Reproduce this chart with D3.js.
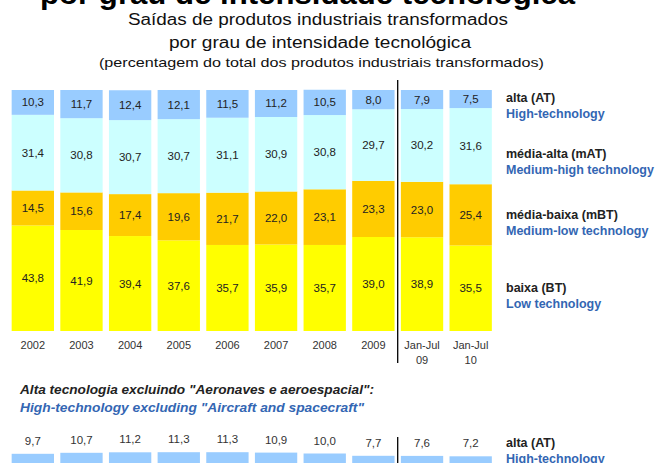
<!DOCTYPE html>
<html>
<head>
<meta charset="utf-8">
<script src="https://cdn.jsdelivr.net/npm/d3@7"></script>
<style>
    body { margin: 0; background: #fff; }
    svg { display: block; font-family: "Liberation Sans", Arial, sans-serif; }
</style>
</head>
<body>
<script>
// periods on the x axis
var periods = ["2002", "2003", "2004", "2005", "2006", "2007", "2008", "2009", "Jan-Jul 09", "Jan-Jul 10"];

// shares by technology level (% of manufactured goods exports)
var alta = [10.3, 11.7, 12.4, 12.1, 11.5, 11.2, 10.5, 8.0, 7.9, 7.5];
var mediaAlta = [31.4, 30.8, 30.7, 30.7, 31.1, 30.9, 30.8, 29.7, 30.2, 31.6];
var mediaBaixa = [14.5, 15.6, 17.4, 19.6, 21.7, 22.0, 23.1, 23.3, 23.0, 25.4];
var baixa = [43.8, 41.9, 39.4, 37.6, 35.7, 35.9, 35.7, 39.0, 38.9, 35.5];

// high-technology excluding aircraft and spacecraft
var altaExcl = [9.7, 10.7, 11.2, 11.3, 11.3, 10.9, 10.0, 7.7, 7.6, 7.2];

var seriesNames = ["alta (AT)", "média-alta (mAT)", "média-baixa (mBT)", "baixa (BT)"];
var seriesNamesEn = ["High-technology", "Medium-high technology", "Medium-low technology", "Low technology"];

class App {
    constructor() {
    }

    start() {
        this.draw();
    }

    draw() {
        var width = 663,
            height = 463,
            colors = ["#99ccff", "#ccffff", "#ffcc00", "#ffff00"],
            blue = "#3366b3",
            dark = "#222";

        var svg = d3.select("body").append("svg")
            .attr("width", width)
            .attr("height", height);

        // titles
        svg.append("text")
            .attr("x", 40).attr("y", 4)
            .attr("textLength", 535).attr("lengthAdjust", "spacingAndGlyphs")
            .style("font-size", "29px").style("font-weight", "bold").style("fill", "#000")
            .text("por grau de intensidade tecnológica");

        var subtitles = [
            { t: "Saídas de produtos industriais transformados", x: 128, y: 25, w: 380, s: 16 },
            { t: "por grau de intensidade tecnológica", x: 169, y: 48, w: 302, s: 16 },
            { t: "(percentagem do total dos produtos industriais transformados)", x: 99, y: 67, w: 445, s: 13 }
        ];
        svg.selectAll(".subtitle").data(subtitles).enter().append("text")
            .attr("class", "subtitle")
            .attr("x", function (d) { return d.x; })
            .attr("y", function (d) { return d.y; })
            .attr("textLength", function (d) { return d.w; })
            .attr("lengthAdjust", "spacingAndGlyphs")
            .style("font-size", function (d) { return d.s + "px"; })
            .style("fill", "#111")
            .text(function (d) { return d.t; });

        var x = d3.scaleBand()
            .domain(periods)
            .range([8.5, 495])
            .paddingInner(0.13)
            .paddingOuter(0.065);

        var y = d3.scaleLinear().domain([0, 100]).range([331, 90]);

        // build stack from the named arrays, top segment first
        var rows = periods.map(function (p, i) {
            return { period: p, alta: alta[i], mediaAlta: mediaAlta[i], mediaBaixa: mediaBaixa[i], baixa: baixa[i] };
        });
        var keys = ["baixa", "mediaBaixa", "mediaAlta", "alta"];
        var stack = d3.stack().keys(keys)(rows);

        var fmt = function (v) { return d3.format(".1f")(v).replace(".", ","); };

        var layers = svg.append("g").selectAll("g")
            .data(stack)
            .enter().append("g")
            .style("fill", function (d) { return colors[3 - keys.indexOf(d.key)]; });

        layers.selectAll("rect")
            .data(function (d) { return d; })
            .enter().append("rect")
            .attr("x", function (d) { return x(d.data.period); })
            .attr("width", x.bandwidth())
            .attr("y", function (d) { return y(d[1]); })
            .attr("height", function (d) { return y(d[0]) - y(d[1]); });

        layers.selectAll("text")
            .data(function (d) { return d.map(function (s) { s.key = d.key; return s; }); })
            .enter().append("text")
            .attr("x", function (d) { return x(d.data.period) + x.bandwidth() / 2; })
            .attr("y", function (d) { return (y(d[0]) + y(d[1])) / 2 + 4; })
            .attr("text-anchor", "middle")
            .style("font-size", "11.5px")
            .style("fill", dark)
            .text(function (d) { return fmt(d.data[d.key]); });

        // period labels
        var labels = svg.append("g").selectAll("text")
            .data(periods)
            .enter().append("text")
            .attr("x", function (d) { return x(d) + x.bandwidth() / 2; })
            .attr("y", 349)
            .attr("text-anchor", "middle")
            .style("font-size", "11px")
            .style("fill", "#333");
        labels.each(function (d) {
            var parts = d.split(" ");
            var t = d3.select(this);
            parts.forEach(function (p, i) {
                t.append("tspan")
                    .attr("x", x(d) + x.bandwidth() / 2)
                    .attr("dy", i ? 15 : 0)
                    .text(p);
            });
        });

        // separator between years and partial periods
        var sepX = (x("2009") + x.bandwidth() + x("Jan-Jul 09")) / 2;
        svg.append("line")
            .attr("x1", sepX).attr("x2", sepX)
            .attr("y1", 80).attr("y2", 363)
            .style("stroke", "#000").style("stroke-width", 1.3);

        // legend
        var legendY = [102, 158, 219, 292];
        var legend = svg.append("g").selectAll("g")
            .data(seriesNames)
            .enter().append("g")
            .attr("transform", function (d, i) { return "translate(506," + legendY[i] + ")"; });
        legend.append("text")
            .style("font-size", "12.5px").style("font-weight", "bold").style("fill", dark)
            .text(function (d) { return d; });
        legend.append("text")
            .attr("y", 16)
            .style("font-size", "12.5px").style("font-weight", "bold").style("fill", blue)
            .text(function (d, i) { return seriesNamesEn[i]; });

        // lower panel: high-tech excluding aircraft
        svg.append("text")
            .attr("x", 20).attr("y", 394)
            .attr("textLength", 354).attr("lengthAdjust", "spacingAndGlyphs")
            .style("font-size", "13.5px").style("font-weight", "bold").style("font-style", "italic").style("fill", dark)
            .text("Alta tecnologia excluindo \"Aeronaves e aeroespacial\":");
        svg.append("text")
            .attr("x", 20).attr("y", 412)
            .attr("textLength", 344).attr("lengthAdjust", "spacingAndGlyphs")
            .style("font-size", "13.5px").style("font-weight", "bold").style("font-style", "italic").style("fill", blue)
            .text("High-technology excluding \"Aircraft and spacecraft\"");

        var y2 = d3.scaleLinear().domain([0, 100]).range([463.5, 363.5]);

        svg.append("g").selectAll("rect")
            .data(altaExcl)
            .enter().append("rect")
            .attr("x", function (d, i) { return x(periods[i]); })
            .attr("width", x.bandwidth())
            .attr("y", function (d) { return y2(d); })
            .attr("height", function (d) { return y2(0) - y2(d); })
            .style("fill", colors[0]);

        svg.append("g").selectAll("text")
            .data(altaExcl)
            .enter().append("text")
            .attr("x", function (d, i) { return x(periods[i]) + x.bandwidth() / 2; })
            .attr("y", function (d) { return y2(d) - 9; })
            .attr("text-anchor", "middle")
            .style("font-size", "11.5px")
            .style("fill", "#333")
            .text(function (d) { return fmt(d); });

        svg.append("line")
            .attr("x1", sepX).attr("x2", sepX)
            .attr("y1", 437).attr("y2", height)
            .style("stroke", "#000").style("stroke-width", 1.3);

        svg.append("text")
            .attr("x", 506).attr("y", 447)
            .style("font-size", "12.5px").style("font-weight", "bold").style("fill", dark)
            .text(seriesNames[0]);
        svg.append("text")
            .attr("x", 506).attr("y", 463)
            .style("font-size", "12.5px").style("font-weight", "bold").style("fill", blue)
            .text(seriesNamesEn[0]);
    }
}

window.addEventListener('load', function () {
    const app = new App();
    app.start();
});
</script>
</body>
</html>
